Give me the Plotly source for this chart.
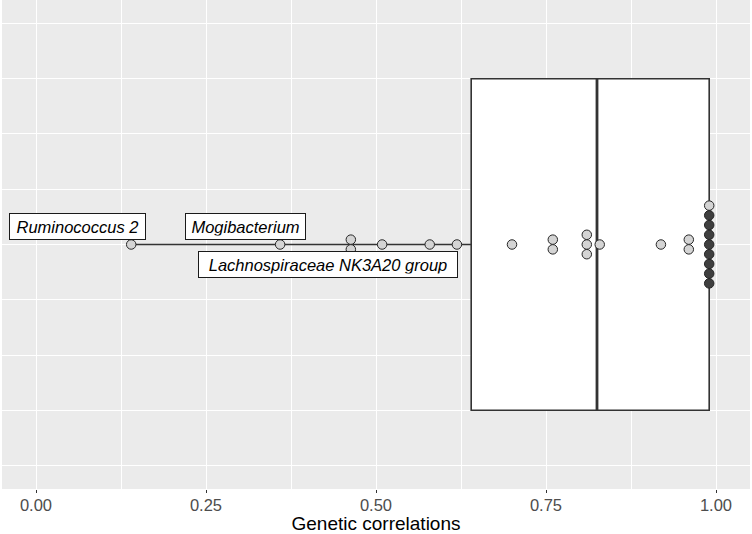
import numpy as np
import plotly.graph_objects as go

# ---- data ----
corr_values = [0.140, 0.359, 0.463, 0.463, 0.509, 0.579, 0.619, 0.700,
               0.760, 0.760, 0.810, 0.810, 0.810, 0.829, 0.919, 0.960, 0.960,
               0.990, 0.990, 0.990, 0.990, 0.990, 0.990, 0.990, 0.990, 0.990]
dot_group = ["light"] * 17 + ["dark"] * 8 + ["light"]

# box statistics (as drawn)
box_q1 = 0.640
box_median = 0.825
box_q3 = 0.990
box_lower = 0.140
box_upper = 0.990

# labelled taxa and the value of the dot each one belongs to
label_names = ["Ruminococcus 2", "Mogibacterium", "Lachnospiraceae NK3A20 group"]
label_values = [0.140, 0.359, 0.463]

x_tick_vals = [0.00, 0.25, 0.50, 0.75, 1.00]
x_tick_text = ["0.00", "0.25", "0.50", "0.75", "1.00"]

# ---- style ----
FONT = "Liberation Sans, Arial, sans-serif"
BOX_WIDTH = 0.6
STACK_STEP = 0.0176
colors = {"light": "#d4d4d4", "dark": "#3f3f3f"}

# dot stacking (centered stacks of equal values)
vals = np.array(corr_values)
groups = np.array(dot_group)
ys = np.zeros(len(vals))
order_key = {"dark": 0, "light": 1}
for v in np.unique(vals):
    idx = np.where(vals == v)[0]
    idx = sorted(idx, key=lambda i: order_key[groups[i]])
    k = len(idx)
    for j, i in enumerate(idx):
        ys[i] = (j - (k - 1) / 2) * STACK_STEP

fig = go.Figure()

fig.add_trace(go.Box(
    q1=[box_q1], median=[box_median], q3=[box_q3],
    lowerfence=[box_lower], upperfence=[box_upper],
    y=[0], orientation="h", width=BOX_WIDTH,
    fillcolor="white", line=dict(color="#333333", width=1.6),
    whiskerwidth=0, boxpoints=False, showlegend=False, hoverinfo="skip",
))
# thicker median line
fig.add_trace(go.Scatter(
    x=[box_median, box_median], y=[-BOX_WIDTH / 2, BOX_WIDTH / 2],
    mode="lines", line=dict(color="#333333", width=2.8),
    showlegend=False, hoverinfo="skip",
))

for g in ["light", "dark"]:
    m = groups == g
    fig.add_trace(go.Scatter(
        x=vals[m], y=ys[m], mode="markers",
        marker=dict(size=9.5, color=colors[g], line=dict(color="#262626", width=1)),
        showlegend=False,
    ))

# labels (offsets in pixels, as positioned by the repel layout)
label_shift = [(-53.5, 18.5), (-35, 18.5), (-23, -20)]
label_box_w = [128, 112, 251]
for name, v, (dx, dy), w in zip(label_names, label_values, label_shift, label_box_w):
    fig.add_annotation(
        x=v, y=0, text=name, showarrow=False,
        xshift=dx, yshift=dy, width=w, align="center",
        font=dict(family=FONT, size=16.5, color="black", style="italic"),
        bgcolor="white", bordercolor="#1a1a1a", borderwidth=1, borderpad=3.5,
    )

fig.update_layout(
    width=752, height=534,
    margin=dict(l=2, r=2, t=0, b=45, autoexpand=False),
    paper_bgcolor="white", plot_bgcolor="#ebebeb",
    font=dict(family=FONT),
    xaxis=dict(
        range=[-0.05, 1.05], tickvals=x_tick_vals, ticktext=x_tick_text,
        showgrid=True, gridcolor="white", gridwidth=1.1, zeroline=False,
        ticks="outside", ticklen=3, tickcolor="#333333", tickwidth=1.1,
        tickfont=dict(family=FONT, size=16.5, color="#4d4d4d"),
        ticklabelstandoff=-2,
        title=dict(text="Genetic correlations", font=dict(family=FONT, size=19, color="black"), standoff=1),
        minor=dict(tickvals=[-0.125, 0.125, 0.375, 0.625, 0.875], showgrid=True,
                   gridcolor="white", gridwidth=0.55, ticks=""),
        showline=False, fixedrange=True, automargin=False,
    ),
    yaxis=dict(
        range=[-0.4425, 0.4425], tickvals=[-0.4, -0.2, 0, 0.2, 0.4],
        showticklabels=False, ticks="", showgrid=True, gridcolor="white", gridwidth=1.1,
        zeroline=False,
        minor=dict(tickvals=[-0.3, -0.1, 0.1, 0.3], showgrid=True,
                   gridcolor="white", gridwidth=0.55, ticks=""),
        fixedrange=True, automargin=False,
    ),
)

fig.write_html("out.html", config={"displayModeBar": False},
               post_script="document.body.style.margin='0';")
